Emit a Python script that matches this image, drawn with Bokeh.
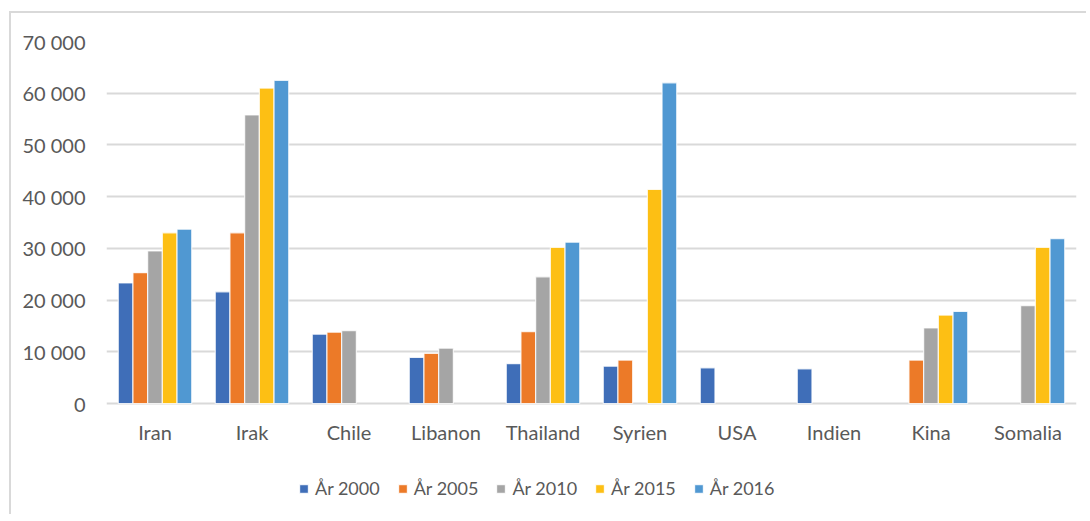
from bokeh.plotting import figure
from bokeh.models import FactorRange, Legend, LegendItem, FixedTicker, ColumnDataSource
from bokeh.core.properties import value
from bokeh.transform import dodge
from bokeh.embed import file_html
from bokeh.resources import INLINE

countries = ["Iran", "Irak", "Chile", "Libanon", "Thailand", "Syrien", "USA", "Indien", "Kina", "Somalia"]
series_names = ["År 2000", "År 2005", "År 2010", "År 2015", "År 2016"]
y2000 = [23300, 21600, 13400, 8900, 7700, 7200, 6900, 6700, None, None]
y2005 = [25300, 33000, 13800, 9700, 13900, 8400, None, None, 8400, None]
y2010 = [29500, 55800, 14100, 10700, 24500, None, None, None, 14600, 18900]
y2015 = [33000, 61000, None, None, 30200, 41400, None, None, 17100, 30200]
y2016 = [33700, 62500, None, None, 31200, 62000, None, None, 17800, 31900]
y_ticks = [0, 10000, 20000, 30000, 40000, 50000, 60000, 70000]
y_tick_labels = ["0", "10 000", "20 000", "30 000", "40 000", "50 000", "60 000", "70 000"]

colors = ["#3F6EB8", "#EC7A28", "#A5A5A5", "#FDBF14", "#5098D2"]
FONT = "Lato"
TXT = "#595959"

# layout in pixels
VAL_H = 362          # pixel height of 0..70000
EXTRA_H = 107        # room below zero for category labels and legend
YMAX = 70000
per_px = YMAX / VAL_H
ymin = -EXTRA_H * per_px
label_y = -28 * per_px

p = figure(x_range=FactorRange(factors=countries, range_padding=0), y_range=(ymin, YMAX),
           frame_width=970, frame_height=VAL_H + EXTRA_H, min_border_left=95, min_border_right=10,
           min_border_top=28, min_border_bottom=4, x_axis_location=None,
           output_backend="svg", toolbar_location=None, tools="")
p.styles = {"border-top": "2px solid #d9d9d9", "border-left": "2px solid #d9d9d9",
            "margin-left": "9px", "margin-top": "11px"}
p.outline_line_color = None
p.background_fill_color = "white"

data = dict(cat=countries, ly=[label_y] * len(countries))
all_series = [y2000, y2005, y2010, y2015, y2016]
for i, s in enumerate(all_series):
    data["s%d" % i] = [float("nan") if v is None else v for v in s]
src = ColumnDataSource(data)

pitch = 0.1515
renderers = []
for i in range(5):
    r = p.vbar(x=dodge("cat", (i - 2) * pitch, range=p.x_range), top="s%d" % i, width=pitch,
               source=src, fill_color=colors[i], line_color="white", line_width=1.2, line_alpha=0.8)
    renderers.append(r)

# category labels
p.text(x="cat", y="ly", text="cat", source=src, text_font=value(FONT), text_font_size="20px",
       text_color=TXT, text_align="center", text_baseline="middle")

p.ygrid.grid_line_color = "#d9d9d9"
p.ygrid.grid_line_width = 2
p.xgrid.grid_line_color = None
p.yaxis.ticker = FixedTicker(ticks=y_ticks)
p.yaxis.major_label_overrides = {t: l for t, l in zip(y_ticks, y_tick_labels)}
p.yaxis.axis_line_color = None
p.yaxis.major_tick_line_color = None
p.yaxis.minor_tick_line_color = None
p.yaxis.major_label_text_font = FONT
p.yaxis.major_label_text_font_size = "20px"
p.yaxis.major_label_text_color = TXT
p.yaxis.major_label_standoff = 15

legend = Legend(items=[LegendItem(label=n, renderers=[r]) for n, r in zip(series_names, renderers)],
                orientation="horizontal", location=(192, 11))
legend.label_text_font = FONT
legend.label_text_font_size = "18px"
legend.label_text_color = TXT
legend.glyph_width = 11
legend.glyph_height = 11
legend.label_standoff = 6
legend.spacing = 17
legend.padding = 0
legend.margin = 0
legend.border_line_color = None
legend.background_fill_alpha = 0
p.add_layout(legend, "center")

open("out.html", "w").write(file_html(p, INLINE))
